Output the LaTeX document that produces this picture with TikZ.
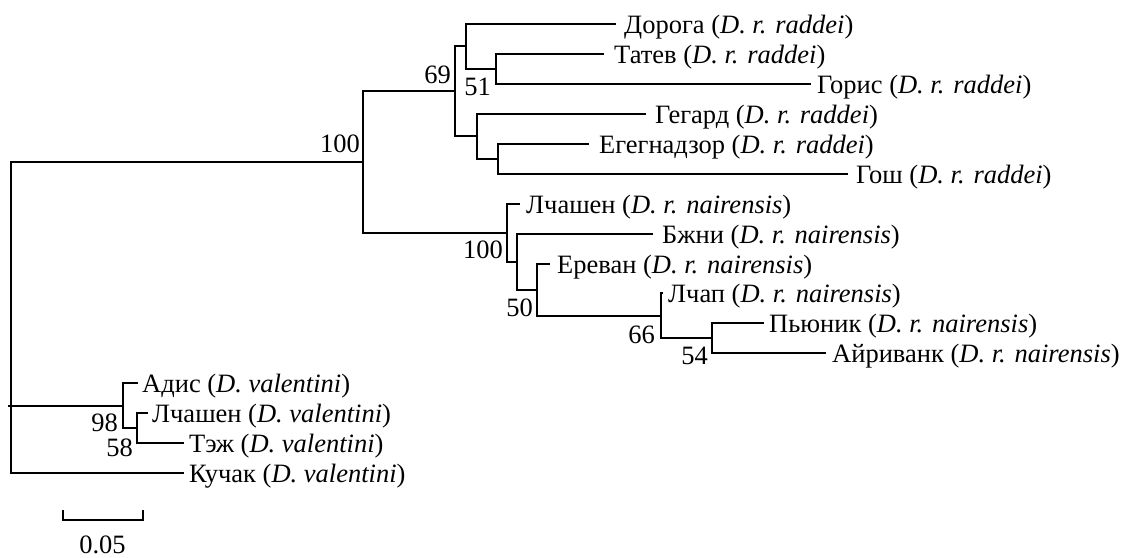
\documentclass[tikz,border=0pt]{standalone}
\usepackage{fontspec}
\setmainfont{Liberation Serif}
\begin{document}
\begin{tikzpicture}[x=1pt,y=-1pt,
  br/.style={line width=2pt,line cap=rect,line join=miter},
  leaf/.style={anchor=base west,inner sep=0pt,font=\fontsize{26.5}{30}\selectfont},
  boot/.style={anchor=base east,inner sep=0pt,font=\fontsize{26.5}{30}\selectfont}]
\useasboundingbox (0,0) rectangle (1126,557);
% internal nodes
\coordinate (R) at (11,405.6);
\coordinate (A) at (363,161.9);
\coordinate (B) at (455,91.3);
\coordinate (C) at (466,46.4);
\coordinate (D) at (496,68.9);
\coordinate (E) at (477,136.2);
\coordinate (F) at (498,158.7);
\coordinate (G) at (507,232.6);
\coordinate (H) at (517,261.6);
\coordinate (I) at (537,289.7);
\coordinate (J) at (661,315.8);
\coordinate (K) at (712,338.2);
\coordinate (L) at (123.3,405.6);
\coordinate (M) at (137.3,428);
% leaf ends
\coordinate (l1) at (615,24);
\coordinate (l2) at (603,53.9);
\coordinate (l3) at (810,83.9);
\coordinate (l4) at (645,113.8);
\coordinate (l5) at (588,143.7);
\coordinate (l6) at (847,173.7);
\coordinate (l7) at (519,203.6);
\coordinate (l8) at (652,233.5);
\coordinate (l9) at (549,263.5);
\coordinate (l10) at (662,293.4);
\coordinate (l11) at (763,323.3);
\coordinate (l12) at (825,353.2);
\coordinate (l13) at (137,383.2);
\coordinate (l14) at (147,413.1);
\coordinate (l15) at (183,443);
\coordinate (l16) at (183,473);
% branches
\draw[br] (A) -| (R) |- (l16);
\draw[br] (R) ++(-2,0) -- (L);
\draw[br] (B) -| (A) |- (G);
\draw[br] (C) -| (B) |- (E);
\draw[br] (l1) -| (C) |- (D);
\draw[br] (l2) -| (D) |- (l3);
\draw[br] (l4) -| (E) |- (F);
\draw[br] (l5) -| (F) |- (l6);
\draw[br] (l7) -| (G) |- (H);
\draw[br] (l8) -| (H) |- (I);
\draw[br] (l9) -| (I) |- (J);
\draw[br] (l10) -| (J) |- (K);
\draw[br] (l11) -| (K) |- (l12);
\draw[br] (l13) -| (L) |- (M);
\draw[br] (l14) -| (M) |- (l15);
% leaf labels
\node[leaf] (t1) at (624,33.5) {Дорога (\textit{D. r. raddei})};
\node[leaf] (t2) at (614,63.4) {Татев (\textit{D. r. raddei})};
\node[leaf] (t3) at (817,93.4) {Горис (\textit{D. r. raddei})};
\node[leaf] (t4) at (655,123.3) {Гегард (\textit{D. r. raddei})};
\node[leaf] (t5) at (599,153.2) {Егегнадзор (\textit{D. r. raddei})};
\node[leaf] (t6) at (856,183.2) {Гош (\textit{D. r. raddei})};
\node[leaf] (t7) at (526,213.1) {Лчашен (\textit{D. r. nairensis})};
\node[leaf] (t8) at (662,243) {Бжни (\textit{D. r. nairensis})};
\node[leaf] (t9) at (557,273) {Ереван (\textit{D. r. nairensis})};
\node[leaf] (t10) at (668,302.9) {Лчап (\textit{D. r. nairensis})};
\node[leaf] (t11) at (769,332.8) {Пьюник (\textit{D. r. nairensis})};
\node[leaf] (t12) at (832,362.7) {Айриванк (\textit{D. r. nairensis})};
\node[leaf] (t13) at (142,392.7) {Адис (\textit{D. valentini})};
\node[leaf] (t14) at (152,422.6) {Лчашен (\textit{D. valentini})};
\node[leaf] (t15) at (189,452.5) {Тэж (\textit{D. valentini})};
\node[leaf] (t16) at (189,482.5) {Кучак (\textit{D. valentini})};
% bootstrap values
\node[boot] (bA) at (360,152.5) {100};
\node[boot] (bB) at (451,83) {69};
\node[boot] (bD) at (491,95.5) {51};
\node[boot] (bG) at (503,258) {100};
\node[boot] (bI) at (533,316.5) {50};
\node[boot] (bJ) at (655,343) {66};
\node[boot] (bK) at (708,364) {54};
\node[boot] (bL) at (118,431.5) {98};
\node[boot] (bM) at (133,456.5) {58};
% scale bar
\coordinate (s1) at (63.3,519.5);
\coordinate (s2) at (143.3,519.5);
\draw[line width=2pt] (s1) ++(0,-9.5) -- (s1) -- (s2) -- ++(0,-9.5);
\node[anchor=base,inner sep=0pt,font=\fontsize{26.5}{30}\selectfont] (sc) at (102.5,553) {0.05};
\end{tikzpicture}
\end{document}
